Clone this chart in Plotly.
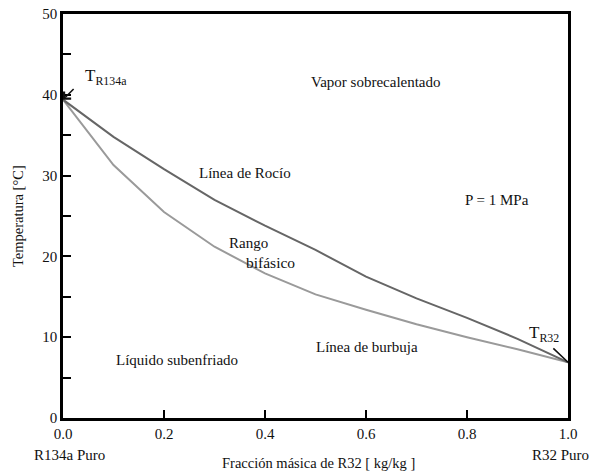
import plotly.graph_objects as go

x_frac = [0.0, 0.1, 0.2, 0.3, 0.4, 0.5, 0.6, 0.7, 0.8, 0.9, 1.0]
t_dew = [39.4, 34.8, 30.8, 27.0, 23.8, 20.8, 17.5, 14.8, 12.4, 9.8, 6.9]
t_bubble = [39.4, 31.3, 25.5, 21.2, 17.9, 15.3, 13.4, 11.6, 10.0, 8.5, 6.9]

FONT = "Liberation Serif"

fig = go.Figure()
fig.add_trace(go.Scatter(x=x_frac, y=t_bubble, mode="lines",
                         line=dict(color="#9a9a9a", width=2), showlegend=False))
fig.add_trace(go.Scatter(x=x_frac, y=t_dew, mode="lines",
                         line=dict(color="#666666", width=2), showlegend=False))

ann = []
def txt(x, y, s, size=15, xa="center", ya="middle"):
    ann.append(dict(x=x, y=y, xref="x", yref="y", text=s, showarrow=False,
                    font=dict(family=FONT, size=size, color="#111"),
                    xanchor=xa, yanchor=ya))

def ptxt(x, y, s, size=15, xa="center", angle=0):
    ann.append(dict(x=x, y=y, xref="paper", yref="paper", text=s, showarrow=False,
                    font=dict(family=FONT, size=size, color="#111"),
                    xanchor=xa, yanchor="middle", textangle=angle))

txt(0.62, 41.6, "Vapor sobrecalentado")
txt(0.36, 30.3, "Línea de Rocío")
txt(0.86, 27.0, "P = 1 MPa")
txt(0.368, 21.7, "Rango")
txt(0.41, 19.2, "bifásico", size=15.5)
txt(0.602, 8.8, "Línea de burbuja")
txt(0.226, 7.2, "Líquido subenfriado")
txt(0.040, 42.2, "T<sub>R134a</sub>", size=17, xa="left")
txt(0.919, 10.4, "T<sub>R32</sub>", size=17, xa="left")

ann.append(dict(x=0.0, y=39.4, xref="x", yref="y", axref="x", ayref="y",
                ax=0.024, ay=40.9, text="", showarrow=True, arrowhead=4,
                arrowsize=1.2, arrowwidth=1.6, arrowcolor="#111"))
ann.append(dict(x=1.0, y=6.9, xref="x", yref="y", axref="x", ayref="y",
                ax=0.968, ay=8.8, text="", showarrow=True, arrowhead=0,
                arrowwidth=1.6, arrowcolor="#111"))

# category labels under x axis ends, and axis titles
ptxt(0.012, -0.092, "R134a Puro")
ptxt(1.046, -0.092, "R32 Puro", xa="right")
ptxt(0.505, -0.111, "Fracción másica de R32 [ kg/kg ]", size=14.5)
ptxt(-0.089, 0.5, "Temperatura [°C]", size=14.5, angle=-90)

fig.update_layout(
    width=593, height=473,
    margin=dict(l=63, r=25, t=14, b=55),
    paper_bgcolor="white", plot_bgcolor="white",
    font=dict(family=FONT, size=15, color="#111"),
    annotations=ann,
    xaxis=dict(range=[0, 1], tickvals=[0, 0.2, 0.4, 0.6, 0.8, 1.0], tickformat=".1f",
               ticks="inside", ticklen=8, tickwidth=2, tickcolor="black",
               showline=True, linecolor="black", linewidth=2.5, mirror=True,
               showgrid=False, zeroline=False, automargin=False,
               tickfont=dict(size=15)),
    yaxis=dict(range=[0, 50], tickvals=[0, 10, 20, 30, 40, 50],
               ticks="inside", ticklen=8, tickwidth=2, tickcolor="black",
               minor=dict(tickvals=[5, 15, 25, 35, 45], ticks="inside", ticklen=8,
                          tickwidth=2, tickcolor="black"),
               showline=True, linecolor="black", linewidth=2.5, mirror=True,
               showgrid=False, zeroline=False, automargin=False,
               tickfont=dict(size=15)),
)

fig.write_html("out.html")
